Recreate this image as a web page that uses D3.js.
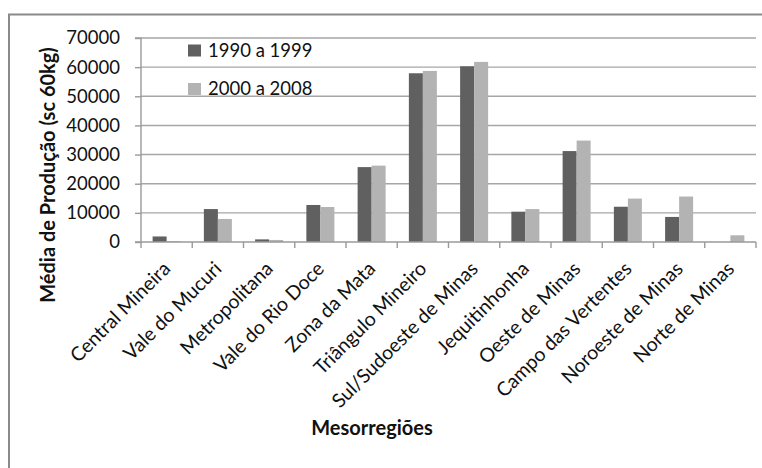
<!DOCTYPE html>
<html>
<head>
<meta charset="utf-8">
<script src="https://cdn.jsdelivr.net/npm/d3@7"></script>
<style>
  html, body { margin: 0; padding: 0; background: #fff; }
  svg { display: block; }
  text { font-family: Lato, "Open Sans", sans-serif; fill: #111; }
</style>
</head>
<body>
<svg id="chart" width="762" height="468"></svg>
<script>
// Mesorregiões de Minas Gerais e média de produção de café (sacas de 60 kg)
const categories = [
  "Central Mineira", "Vale do Mucuri", "Metropolitana", "Vale do Rio Doce",
  "Zona da Mata", "Triângulo Mineiro", "Sul/Sudoeste de Minas", "Jequitinhonha",
  "Oeste de Minas", "Campo das Vertentes", "Noroeste de Minas", "Norte de Minas"
];
const seriesNames = ["1990 a 1999", "2000 a 2008"];
const values1990 = [1900, 11300, 900, 12700, 25700, 57900, 60300, 10400, 31200, 12100, 8600, 0];
const values2000 = [300, 7900, 700, 12000, 26200, 58700, 61800, 11300, 34800, 14900, 15600, 2300];
const yTicks = [0, 10000, 20000, 30000, 40000, 50000, 60000, 70000];
const seriesColors = ["#606060", "#b3b3b3"];

const svg = d3.select("#chart");

// outer frame of the chart area
svg.append("path")
  .attr("d", "M9,468 V14.5 H762")
  .attr("fill", "none")
  .attr("stroke", "#8a8a8a")
  .attr("stroke-width", 2);

const plot = { left: 141, right: 756, top: 38, bottom: 242 };

const x0 = d3.scaleBand().domain(categories).range([plot.left, plot.right]).padding(0);
const x1 = d3.scaleBand().domain(seriesNames).range([0, x0.bandwidth()])
  .paddingInner(0).paddingOuter(0.83);
const y = d3.scaleLinear().domain([0, 70000]).range([plot.bottom, plot.top]);

// horizontal gridlines
svg.append("g")
  .selectAll("line")
  .data(yTicks.filter(t => t > 0))
  .join("line")
  .attr("x1", plot.left).attr("x2", plot.right)
  .attr("y1", d => y(d)).attr("y2", d => y(d))
  .attr("stroke", "#a6a6a6")
  .attr("stroke-width", 1.4);

// bars
const rows = categories.map((c, i) => ({ c, vals: [values1990[i], values2000[i]] }));
svg.append("g")
  .selectAll("g")
  .data(rows)
  .join("g")
  .attr("transform", d => `translate(${x0(d.c)},0)`)
  .selectAll("rect")
  .data(d => d.vals.map((v, k) => ({ v, k })))
  .join("rect")
  .attr("x", d => x1(seriesNames[d.k]))
  .attr("width", x1.bandwidth())
  .attr("y", d => y(d.v))
  .attr("height", d => y(0) - y(d.v))
  .attr("fill", d => seriesColors[d.k]);

// y axis
const yAxis = d3.axisLeft(y).tickValues(yTicks).tickSize(6).tickPadding(15).tickFormat(d3.format("d"));
const gy = svg.append("g").attr("transform", `translate(${plot.left},0)`).call(yAxis);
gy.select(".domain").attr("stroke", "#9a9a9a").attr("stroke-width", 1.4)
  .attr("d", `M-6,${plot.top}H0V${plot.bottom}H-6`);
gy.selectAll(".tick line").attr("stroke", "#9a9a9a").attr("stroke-width", 1.4);
gy.selectAll(".tick text")
  .style("font-family", "Lato, sans-serif")
  .style("font-size", "18.5px")
  .attr("fill", "#111");

// x axis: ticks at category boundaries
svg.append("line")
  .attr("x1", plot.left).attr("x2", plot.right)
  .attr("y1", plot.bottom).attr("y2", plot.bottom)
  .attr("stroke", "#9a9a9a").attr("stroke-width", 1.4);
const boundaries = categories.map(c => x0(c)).concat([plot.right]);
svg.append("g").selectAll("line")
  .data(boundaries)
  .join("line")
  .attr("x1", d => d).attr("x2", d => d)
  .attr("y1", plot.bottom).attr("y2", plot.bottom + 6)
  .attr("stroke", "#9a9a9a").attr("stroke-width", 1.4);

// category labels, rotated
svg.append("g").selectAll("text")
  .data(categories)
  .join("text")
  .attr("transform", c => `translate(${x0(c) + x0.bandwidth() / 2 + 5},${plot.bottom + 28}) rotate(-45)`)
  .attr("text-anchor", "end")
  .style("font-size", "19.5px")
  .text(c => c);

// axis titles
svg.append("text")
  .attr("transform", `translate(55,175) rotate(-90)`)
  .attr("text-anchor", "middle")
  .style("font-size", "20px")
  .style("font-weight", "bold")
  .text("Média de Produção (sc 60kg)");

svg.append("text")
  .attr("x", 372).attr("y", 435)
  .attr("text-anchor", "middle")
  .style("font-size", "20px")
  .style("font-weight", "bold")
  .text("Mesorregiões");

// legend
const legend = svg.append("g").selectAll("g")
  .data(seriesNames)
  .join("g")
  .attr("transform", (d, i) => `translate(188,${44.5 + i * 38.5})`);
legend.append("rect")
  .attr("width", 13).attr("height", 12)
  .attr("fill", (d, i) => seriesColors[i]);
legend.append("text")
  .attr("x", 20).attr("y", 12.3)
  .style("font-size", "18.5px")
  .text(d => d);
</script>
</body>
</html>
